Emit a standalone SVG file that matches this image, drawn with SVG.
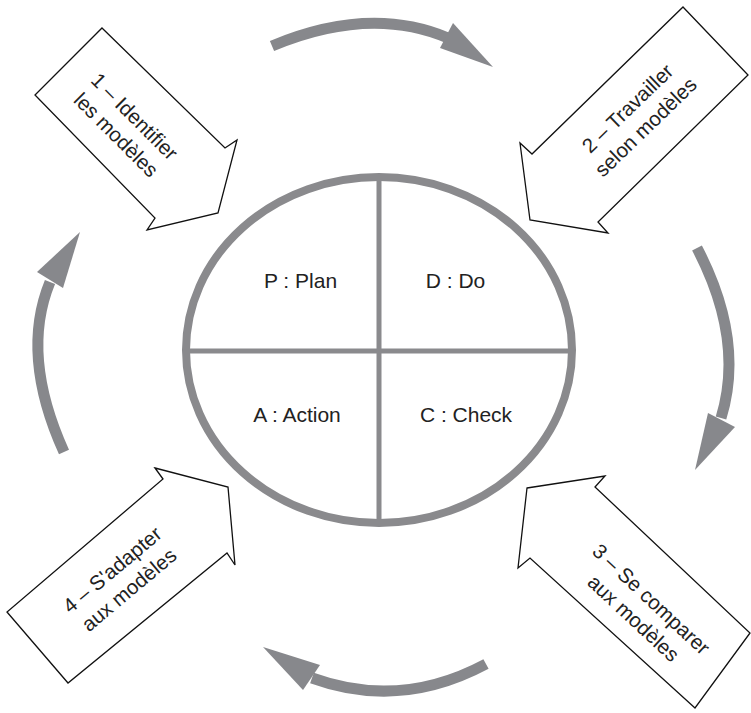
<svg xmlns="http://www.w3.org/2000/svg" width="751" height="713" viewBox="0 0 751 713">
  <style>
    .block { fill: #ffffff; stroke: #111111; stroke-width: 1.3; stroke-linejoin: miter; }
    .lbl { font-family: "Liberation Sans", Arial, sans-serif; font-size: 21px; fill: #222222; text-anchor: middle; }
    .step { font-family: "Liberation Sans", Arial, sans-serif; font-size: 20.5px; fill: #222222; text-anchor: middle; }
    .ring { fill: none; stroke: #8a8a8d; stroke-width: 8; }
    .divider { stroke: #8a8a8d; stroke-width: 5; }
    .shaft { fill: none; stroke: #87888c; stroke-width: 11; }
    .head { fill: #87888c; }
  </style>

  <rect width="751" height="713" fill="#ffffff"/>

  <!-- PDCA wheel -->
  <g id="pdca">
    <ellipse class="ring" cx="379" cy="350" rx="193" ry="173"/>
    <line class="divider" x1="379" y1="177" x2="379" y2="523"/>
    <line class="divider" x1="186" y1="351" x2="572" y2="351"/>
    <text class="lbl" x="300.5" y="288">P : Plan</text>
    <text class="lbl" x="455.5" y="288">D : Do</text>
    <text class="lbl" x="297" y="422">A : Action</text>
    <text class="lbl" x="466" y="422">C : Check</text>
  </g>

  <!-- Step 1 -->
  <g id="step1">
    <polygon class="block" points="102,28 225,148 237,140 218,213 147,230 155,218 35,95"/>
    <g transform="translate(126,125) rotate(45)">
      <text class="step" x="0" y="-5">1 – Identifier</text>
      <text class="step" x="0" y="21">les modèles</text>
    </g>
  </g>

  <!-- Step 2 -->
  <g id="step2">
    <polygon class="block" points="683,7 748,75 598,222 608,233 530,220 520,143 532,154"/>
    <g transform="translate(636,117) rotate(-44)">
      <text class="step" x="0" y="-5">2 – Travailler</text>
      <text class="step" x="0" y="21">selon modèles</text>
    </g>
  </g>

  <!-- Step 3 -->
  <g id="step3">
    <polygon class="block" points="527,488 605,476 595,487 750,633 695,708 530,558 518,568"/>
    <g transform="translate(643,608) rotate(43)">
      <text class="step" x="0" y="-5">3 – Se comparer</text>
      <text class="step" x="0" y="21">aux modèles</text>
    </g>
  </g>

  <!-- Step 4 -->
  <g id="step4">
    <polygon class="block" points="155,468 228,487 235,565 227,553 68,683 7,612 163,479"/>
    <g transform="translate(120,579) rotate(-40)">
      <text class="step" x="0" y="-5">4 – S'adapter</text>
      <text class="step" x="0" y="21">aux modèles</text>
    </g>
  </g>

  <!-- Cycle arrows -->
  <g id="connectors">
    <path class="shaft" d="M272,46 Q370,5 448,38"/>
    <polygon class="head" points="453,23 493,67 440,48"/>

    <path class="shaft" d="M697,248 Q745,340 721,418"/>
    <polygon class="head" points="708,413 735,427 695,470"/>

    <path class="shaft" d="M486,664 Q400,710 312,678"/>
    <polygon class="head" points="320,665 303,690 263,647"/>

    <path class="shaft" d="M64,452 Q20,355 50,282"/>
    <polygon class="head" points="37,272 63,288 80,232"/>
  </g>
</svg>
